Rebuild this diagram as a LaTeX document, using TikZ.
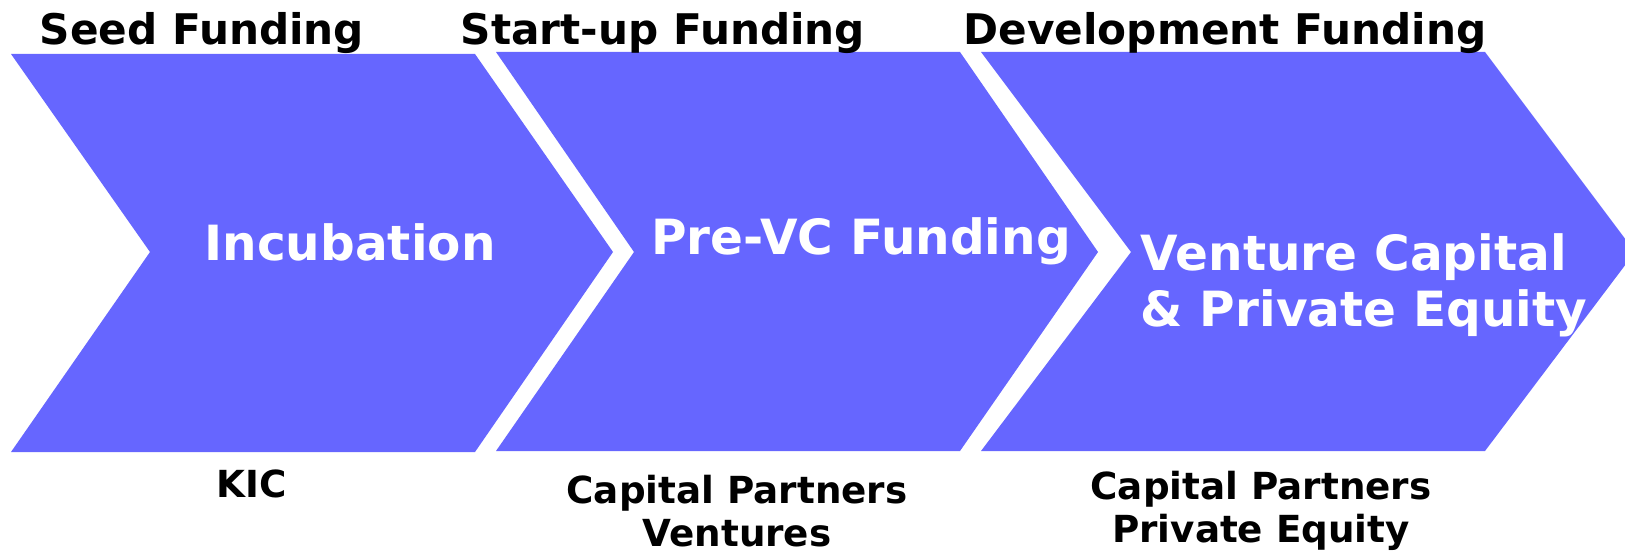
\documentclass[tikz,border=0pt]{standalone}
\usepackage{fontspec}
\setmainfont{DejaVu Sans}
\usetikzlibrary{positioning}
\definecolor{stageblue}{RGB}{102,102,255}

\begin{document}
\begin{tikzpicture}[
    x=0.01cm, y=-0.01cm,
    chevron/.style={fill=stageblue, draw=none},
    fundlbl/.style={inner sep=0pt, font=\fontsize{12}{14}\selectfont\bfseries},
    stagelbl/.style={inner sep=0pt, text=white, align=left, font=\fontsize{13.8}{16}\selectfont\bfseries},
    firmlbl/.style={inner sep=0pt, align=center, font=\fontsize{10.6}{12.4}\selectfont\bfseries}
]
\useasboundingbox (0,0) rectangle (1625,552);

% the three stages
\fill[chevron] (11,54) -- (475,54) -- (613,252) -- (475,452) -- (11,452) -- (150,252) -- cycle;
\fill[chevron] (496,52) -- (960,52) -- (1098,252) -- (960,451) -- (496,451) -- (634,252) -- cycle;
\fill[chevron] (981,52) -- (1485,52) -- (1635,252) -- (1485,451) -- (981,451) -- (1131,252) -- cycle;

\node[stagelbl] (inc) at (350,242) {Incubation};
\node[stagelbl] (prevc) at (861,241) {Pre-VC Funding};
\node[stagelbl] (vcpe) at (1364,285) {Venture Capital\\\& Private Equity};

% funding rounds above
\node[fundlbl] (seed) at (202,33) {Seed Funding};
\node[fundlbl] (startup) at (663,33) {Start-up Funding};
\node[fundlbl] (dev) at (1225,33) {Development Funding};

% investors below
\node[firmlbl] (kic) at (252,484) {KIC};
\node[firmlbl] (cpv) at (737,511) {Capital Partners\\Ventures};
\node[firmlbl] (cppe) at (1261,511) {Capital Partners\\Private Equity};
\end{tikzpicture}
\end{document}
